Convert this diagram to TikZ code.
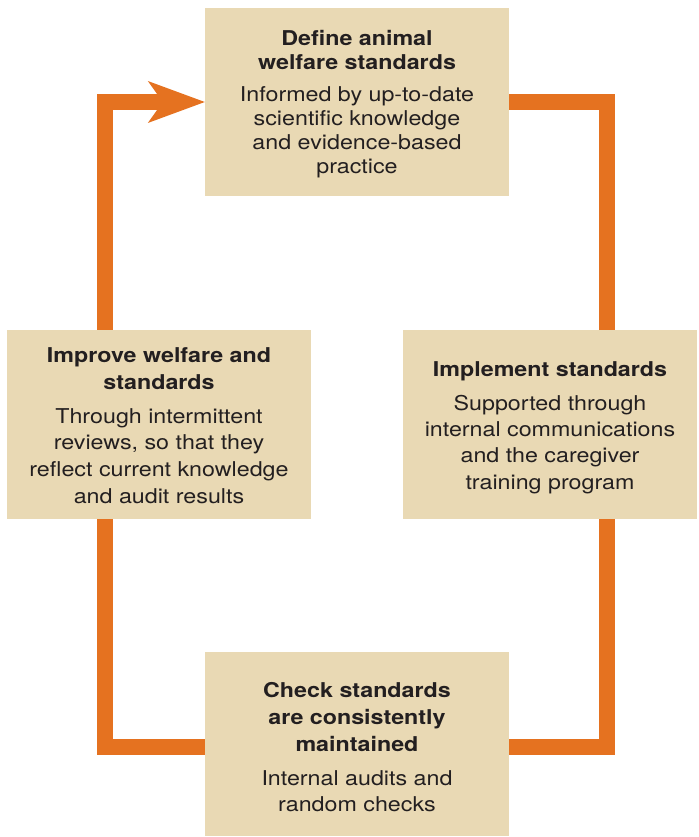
\documentclass[tikz,border=0pt]{standalone}
\usepackage{fontspec}
\setmainfont[FakeStretch=1.14]{TeX Gyre Heros}
\usetikzlibrary{calc}
\definecolor{flow}{HTML}{E57220}
\definecolor{boxfill}{HTML}{E9D9B4}
\definecolor{ink}{HTML}{231F20}
\newcommand\mylines[1]{\begin{tabular}[t]{@{}c@{}}#1\end{tabular}}
\tikzset{
  stagebox/.style={fill=boxfill, draw=none, inner sep=0pt},
  conn/.style={draw=flow, line width=16pt, line join=miter, line cap=butt},
  linesblock/.style={anchor=base, text=ink, inner sep=0pt},
  headtext/.style={linesblock, font=\fontsize{20.4}{#1}\selectfont\bfseries},
  bodytext/.style={linesblock, font=\fontsize{20.4}{#1}\selectfont},
}
\begin{document}
\begin{tikzpicture}[x=1pt,y=-1pt]
\useasboundingbox (0,0) rectangle (698,837);
% boxes
\node[stagebox, minimum width=304pt, minimum height=188pt] (top) at (357,102) {};
\node[stagebox, minimum width=304pt, minimum height=189pt] (left) at (159,424.5) {};
\node[stagebox, minimum width=294pt, minimum height=189pt] (right) at (550,424.5) {};
\node[stagebox, minimum width=304pt, minimum height=184pt] (bottom) at (357,744) {};
% connectors
\draw[conn] (top.east) -| ([xshift=57pt]right.north);
\draw[conn] ([xshift=57pt]right.south) |- ([yshift=-3pt]bottom.east);
\draw[conn] ([yshift=-3pt]bottom.west) -| ([xshift=-54pt]left.south);
\draw[conn] ([xshift=-54pt]left.north) |- ([xshift=-40pt]top.west);
\fill[flow] (top.west) -- ++(-57,21) -- ++(15,-21) -- ++(-15,-21) -- cycle;
% texts
\node[headtext=24] (toph) at (357,46) {\mylines{Define animal\\welfare standards}};
\node[bodytext=24] (topb) at (357,102) {\mylines{Informed by up-to-date\\scientific knowledge\\and evidence-based\\practice}};
\node[headtext=27] (lefth) at (159,362) {\mylines{Improve welfare and\\standards}};
\node[bodytext=26.7] (leftb) at (159,423) {\mylines{Through intermittent\\reviews, so that they\\reflect current knowledge\\and audit results}};
\node[headtext=27] (righth) at (550,376) {\mylines{Implement standards}};
\node[bodytext=26.4] (rightb) at (550,410) {\mylines{Supported through\\internal communications\\and the caregiver\\training program}};
\node[headtext=27] (bottomh) at (357,697) {\mylines{Check standards\\are consistently\\maintained}};
\node[bodytext=26] (bottomb) at (357,785) {\mylines{Internal audits and\\random checks}};
\end{tikzpicture}
\end{document}
